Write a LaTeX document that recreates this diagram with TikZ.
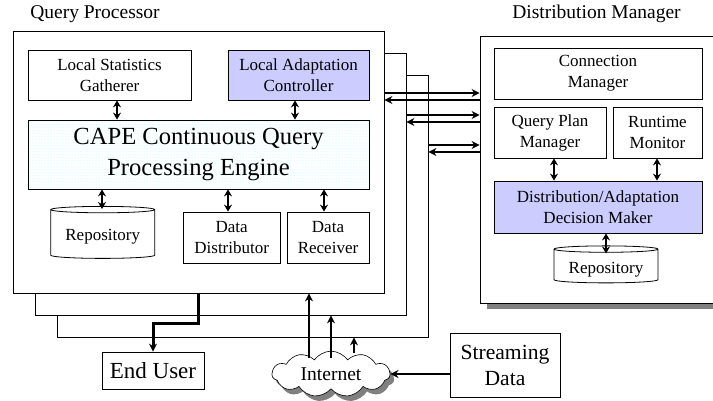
\documentclass[tikz,border=0pt]{standalone}
\usepackage{fontspec}
\setmainfont{Liberation Serif}
\usetikzlibrary{shapes.geometric,shapes.symbols,shadows,patterns,arrows.meta}
\begin{document}
\begin{tikzpicture}
[
   x=1pt,y=-1pt,
   every node/.style={inner sep=1pt,align=center,font=\fontsize{17}{21}\selectfont},
   layer/.style={draw,fill=white,line width=0.8pt,minimum width=371pt,minimum height=262pt},
   unit/.style={draw,fill=white,line width=0.8pt},
   tuned/.style={unit,fill=blue!20},
   store/.style={draw,fill=white,cylinder,shape border rotate=90,aspect=3.2,line width=0.8pt},
   link/.style={{Stealth[length=7pt,width=8pt]}-{Stealth[length=7pt,width=8pt]},line width=1.8pt},
   feed/.style={-{Stealth[length=8pt,width=8pt]},line width=1.8pt}
]
\useasboundingbox (0,0) rectangle (713,401);
% query processor, three copies
\node [layer] (qp3) at (242.5,206) {};
\node [layer] (qp2) at (220.5,184) {};
\node [layer] (qp1) at (198.5,162) {};
\node [font=\fontsize{19.5}{23}\selectfont] (qptitle) at (95,14) {Query Processor};
\node [unit,minimum width=163pt,minimum height=50pt] (stats) at (109.5,75) {Local Statistics\\Gatherer};
\node [tuned,minimum width=141pt,minimum height=50pt] (control) at (298.5,75) {Local Adaptation\\Controller};
\node [unit,pattern=dots,pattern color=cyan!35,minimum width=341pt,minimum height=69pt,font=\fontsize{24.6}{31}\selectfont] (cape) at (198.5,154.5) {CAPE Continuous Query\\Processing Engine};
\node [store,minimum width=104pt,minimum height=52pt] (repo) at (102.7,234.5) {};
\node (repotext) at (102.7,237) {Repository};
\node [unit,minimum width=96.5pt,minimum height=51pt] (distr) at (231.7,237.5) {Data\\Distributor};
\node [unit,minimum width=82pt,minimum height=51pt] (recv) at (328,237.5) {Data\\Receiver};
\draw [link] (stats.south -| 117,0) -- (cape.north -| 117,0);
\draw [link] (control.south -| 295,0) -- (cape.north -| 295,0);
\draw [link] (cape.south -| 102,0) -- ([yshift=-3pt]repo.north -| 102,0);
\draw [link] (cape.south -| 228,0) -- (distr.north -| 228,0);
\draw [link] (cape.south -| 324,0) -- (recv.north -| 324,0);
% distribution manager
\node [draw,fill=white,line width=0.8pt,minimum width=236pt,minimum height=267pt,drop shadow={opacity=1,fill=gray,shadow xshift=7pt,shadow yshift=-6pt}] (dm) at (598,169.5) {};
\node [font=\fontsize{19.5}{23}\selectfont] (dmtitle) at (596.5,14) {Distribution Manager};
\node [unit,minimum width=208pt,minimum height=51pt] (conn) at (598,73.5) {Connection\\Manager};
\node [unit,minimum width=112pt,minimum height=51pt] (plan) at (550,132.5) {Query Plan\\Manager};
\node [unit,minimum width=89pt,minimum height=51pt] (monitor) at (657.5,132.5) {Runtime\\Monitor};
\node [tuned,minimum width=208pt,minimum height=52pt] (decide) at (598,207) {Distribution/Adaptation\\Decision Maker};
\node [store,minimum width=104pt,minimum height=37pt] (dmrepo) at (606,266.5) {};
\node (dmrepotext) at (606,270) {Repository};
\draw [link] (plan.south -| 554,0) -- (decide.north -| 554,0);
\draw [link] (monitor.south -| 657,0) -- (decide.north -| 657,0);
\draw [link] (decide.south -| 606,0) -- ([yshift=-8pt]dmrepo.north -| 606,0);
% between the two
\draw [feed] (qp1.east |- 0,93) -- (dm.west |- 0,93);
\draw [feed] (dm.west |- 0,100) -- (qp1.east |- 0,100);
\draw [feed] (qp2.east |- 0,115) -- (dm.west |- 0,115);
\draw [feed] (dm.west |- 0,122) -- (qp2.east |- 0,122);
\draw [feed] (qp3.east |- 0,145) -- (dm.west |- 0,145);
\draw [feed] (dm.west |- 0,152) -- (qp3.east |- 0,152);
% outside
\node [unit,minimum width=102pt,minimum height=37pt,font=\fontsize{23}{27}\selectfont] (user) at (153,370.5) {End User};
\node [unit,minimum width=110pt,minimum height=64pt,font=\fontsize{21.6}{26}\selectfont] (stream) at (505,365) {Streaming\\Data};
\node [draw,fill=white,cloud,cloud puffs=11,cloud puff arc=110,aspect=2.6,minimum width=118pt,minimum height=44pt,line width=0.6pt,font=\fontsize{19.5}{23}\selectfont,drop shadow={opacity=1,fill=gray,shadow xshift=4pt,shadow yshift=-5pt}] (net) at (331,374) {Internet};
\draw [line width=3pt,-{Stealth[length=8pt,width=8pt]}] (qp1.south -| 198,0) -- (198,323) -- (153,323) -- (user.north);
\draw [feed] ([yshift=-7pt]net.north -| 309,0) -- (qp1.south -| 309,0);
\draw [feed] ([yshift=-7pt]net.north -| 331,0) -- (qp2.south -| 331,0);
\draw [feed] ([yshift=-2pt]net.north -| 354,0) -- (qp3.south -| 354,0);
\draw [feed] (stream.west |- 0,374) -- (net.east |- 0,374);
\end{tikzpicture}
\end{document}
